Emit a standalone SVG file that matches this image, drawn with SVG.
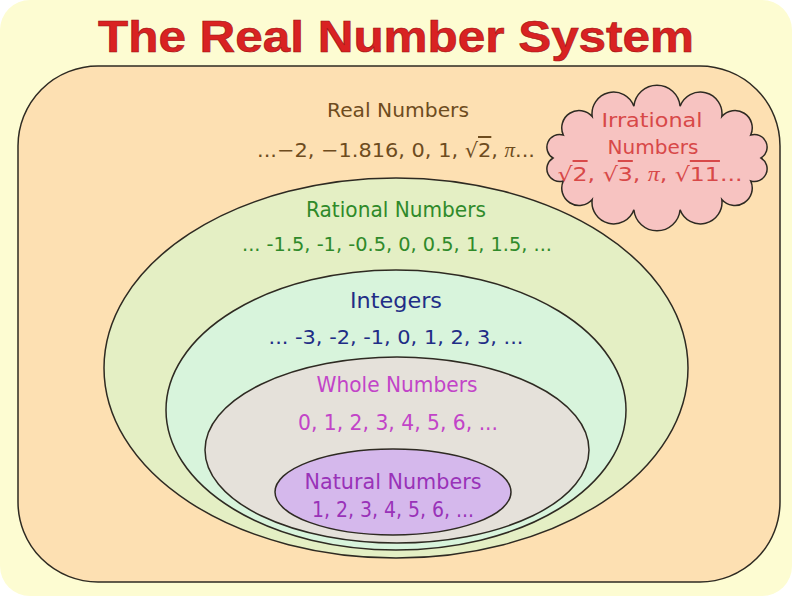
<svg xmlns="http://www.w3.org/2000/svg" width="792" height="596" viewBox="0 0 792 596">
  <defs>
    <style>
      .set { stroke: #2e2a22; stroke-width: 1.5; }
      .lbl { font-family: "DejaVu Sans", "Liberation Sans", sans-serif; text-anchor: middle; }
      .pi { font-family: "Liberation Serif", "DejaVu Serif", serif; font-style: italic; }
      .rad { text-decoration: overline; }
    </style>
  </defs>
  <rect x="0" y="0" width="792" height="596" fill="#ffffff"/>
  <rect x="0" y="0" width="792" height="596" rx="30" ry="30" fill="#fdfcd2"/>

  <text x="396" y="52" font-family="Liberation Sans, Arial, sans-serif" font-weight="bold" font-size="45" fill="#d92222" stroke="#9a1212" stroke-width="0.6" text-anchor="middle" textLength="596" lengthAdjust="spacingAndGlyphs">The Real Number System</text>

  <g id="real-numbers">
    <path class="set" fill="#fde0b2" d="M98,66 H700 A80,80 0 0 1 780,146 V502 A80,80 0 0 1 700,582 H98 A80,80 0 0 1 18,502 V146 A80,80 0 0 1 98,66 Z"/>
    <text class="lbl" x="398" y="117" font-size="20" fill="#6e4c1e" textLength="142" lengthAdjust="spacingAndGlyphs">Real Numbers</text>
    <text class="lbl" x="396" y="157" font-size="20" fill="#6e4c1e" textLength="278" lengthAdjust="spacingAndGlyphs">...−2,  −1.816,  0,  1,  √<tspan class="rad">2</tspan>,  <tspan class="pi">π</tspan>...</text>
  </g>

  <g id="irrational-numbers">
    <path class="set" fill="#f7c3c1" d="M761,158 A12.7,12.7 0 0 1 750.7,181 A17.3,17.3 0 0 1 721.8,199.4 A21.6,21.6 0 0 1 680.1,209.7 A23.2,23.2 0 0 1 633.9,209.7 A21.6,21.6 0 0 1 592.2,199.4 A17.3,17.3 0 0 1 563.3,181 A12.7,12.7 0 0 1 553,158 A12.7,12.7 0 0 1 563.3,135 A17.3,17.3 0 0 1 592.2,116.6 A21.6,21.6 0 0 1 633.9,106.3 A23.2,23.2 0 0 1 680.1,106.3 A21.6,21.6 0 0 1 721.8,116.6 A17.3,17.3 0 0 1 750.7,135 A12.7,12.7 0 0 1 761,158 Z"/>
    <text class="lbl" x="652" y="127" font-size="20" fill="#d84848" textLength="101" lengthAdjust="spacingAndGlyphs">Irrational</text>
    <text class="lbl" x="653" y="154" font-size="20" fill="#d84848" textLength="91" lengthAdjust="spacingAndGlyphs">Numbers</text>
    <text class="lbl" x="650" y="181" font-size="20" fill="#d84848" textLength="185" lengthAdjust="spacingAndGlyphs">√<tspan class="rad">2</tspan>,  √<tspan class="rad">3</tspan>,  <tspan class="pi">π</tspan>,  √<tspan class="rad">11</tspan>...</text>
  </g>

  <g id="rational-numbers">
    <ellipse class="set" cx="396" cy="368" rx="292" ry="190" fill="#e4efc4"/>
    <text class="lbl" x="396" y="217" font-size="21" fill="#2f8a2a" textLength="180" lengthAdjust="spacingAndGlyphs">Rational Numbers</text>
    <text class="lbl" x="397" y="251" font-size="20" fill="#2f8a2a" textLength="310" lengthAdjust="spacingAndGlyphs">... -1.5, -1, -0.5, 0, 0.5, 1, 1.5, ...</text>
  </g>

  <g id="integers">
    <ellipse class="set" cx="396" cy="410" rx="230" ry="140" fill="#d8f4dc"/>
    <text class="lbl" x="396" y="308" font-size="21" fill="#1f2d86" textLength="92" lengthAdjust="spacingAndGlyphs">Integers</text>
    <text class="lbl" x="396" y="344" font-size="20" fill="#1f2d86" textLength="255" lengthAdjust="spacingAndGlyphs">... -3, -2, -1,  0,  1, 2, 3, ...</text>
  </g>

  <g id="whole-numbers">
    <ellipse class="set" cx="397" cy="450" rx="192" ry="93" fill="#e5e1da"/>
    <text class="lbl" x="397" y="392" font-size="21" fill="#c244c8" textLength="161" lengthAdjust="spacingAndGlyphs">Whole Numbers</text>
    <text class="lbl" x="398" y="430" font-size="21" fill="#c244c8" textLength="200" lengthAdjust="spacingAndGlyphs">0,  1, 2, 3, 4, 5, 6, ...</text>
  </g>

  <g id="natural-numbers">
    <ellipse class="set" cx="393" cy="492" rx="118" ry="43" fill="#d5b8ec"/>
    <text class="lbl" x="393" y="489" font-size="21" fill="#9932b8" textLength="177" lengthAdjust="spacingAndGlyphs">Natural Numbers</text>
    <text class="lbl" x="393" y="517" font-size="21" fill="#9932b8" textLength="162" lengthAdjust="spacingAndGlyphs">1, 2, 3, 4, 5, 6, ...</text>
  </g>

  <g id="connectors"></g>
</svg>
